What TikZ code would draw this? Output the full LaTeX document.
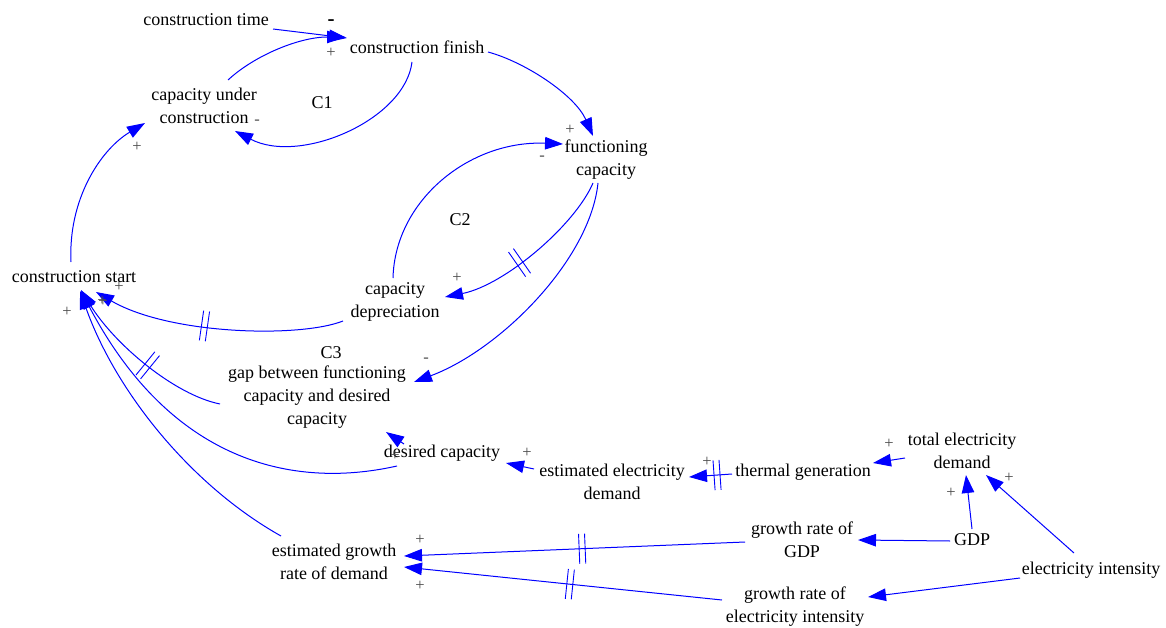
\documentclass[tikz,border=0pt]{standalone}
\usepackage{fontspec}
\setmainfont{Liberation Serif}
\usetikzlibrary{arrows.meta,calc,decorations.markings}
\definecolor{linkblue}{RGB}{0,0,255}

\begin{document}
\begin{tikzpicture}[x=1pt,y=-1pt,
  var/.style={inner sep=0pt,align=center,font=\fontsize{18}{23}\selectfont},
  looplbl/.style={inner sep=0pt,font=\fontsize{18}{23}\selectfont},
  pol/.style={inner sep=0pt,text=black!70,font=\fontsize{16.5}{16.5}\selectfont},
  link/.style={draw=linkblue,line width=1pt,-{Triangle[length=18pt,width=12.5pt]}},
  delay/.style={postaction={decorate,decoration={markings,
      mark=at position #1 with {\draw[linkblue,line width=0.9pt,-]
        (-3pt,-15pt)--(-3pt,15pt) (3pt,-15pt)--(3pt,15pt);}}}},
]
\useasboundingbox[fill=white] (0,0) rectangle (1166,628);

% variables
\node[var] (ct)   at (206,20)  {construction time};
\node[var] (cf)   at (417,47)  {construction finish};
\node[var] (cuc)  at (204,106) {capacity under\\construction};
\node[var] (fc)   at (606,160) {functioning\\capacity};
\node[var] (cs)   at (74,277)  {construction start};
\node[var] (cd)   at (395,302) {capacity\\depreciation};
\node[var] (gap)  at (317,397) {gap between functioning\\capacity and desired\\capacity};
\node[var] (dc)   at (442,453) {desired capacity};
\node[var] (eed)  at (612,482) {estimated electricity\\demand};
\node[var] (tg)   at (803,472) {thermal generation};
\node[var] (ted)  at (962,451) {total electricity\\demand};
\node[var] (gdp)  at (972,540) {GDP};
\node[var] (ggdp) at (802,540) {growth rate of\\GDP};
\node[var] (ei)   at (1091,570) {electricity intensity};
\node[var] (gei)  at (795,607) {growth rate of\\electricity intensity};
\node[var] (egd)  at (334,562) {estimated growth\\rate of demand};

% loop names
\node[looplbl] (c1) at (322,103) {C1};
\node[looplbl] (c2) at (460,220) {C2};
\node[looplbl] (c3) at (331,353) {C3};

% causal links
\draw[link] ($(ct)+(67,9)$) -- ($(cf)+(-70,-9)$);
\draw[link] ($(cuc)+(24,-26)$) .. controls (255,55) and (300,37) .. ($(cf)+(-72,-10)$);
\draw[link] ($(cf)+(-5,15)$) .. controls (405,120) and (300,165) .. ($(cuc)+(31,25)$);
\draw[link] ($(cf)+(71,5)$) .. controls (525,62) and (575,95) .. ($(fc)+(-13,-24)$);
\draw[link] ($(cd)+(-2,-24)$) .. controls (395,200) and (470,140) .. ($(fc)+(-43,-16)$);
\draw[link,delay=0.57] ($(fc)+(-13,23)$) .. controls (575,225) and (505,285) .. ($(cd)+(50,-5)$);
\draw[link] ($(fc)+(-8,23)$) .. controls (590,260) and (500,350) .. ($(gap)+(97,-15)$);
\draw[link,delay=0.55] ($(cd)+(-52,19)$) .. controls (300,338) and (170,335) .. ($(cs)+(22,15)$);
\draw[link,delay=0.45] ($(gap)+(-97,7)$) .. controls (175,395) and (115,345) .. ($(cs)+(7,13)$);
\draw[link] ($(dc)+(-45,13)$) .. controls (290,490) and (170,460) .. ($(cs)+(7,14)$);
\draw[link] ($(egd)+(-53,-26)$) .. controls (190,485) and (115,390) .. ($(cs)+(6,14)$);
\draw[link] ($(cs)+(-3,-15)$) .. controls (68,200) and (100,150) .. ($(cuc)+(-59,17)$);
\draw[link] ($(dc)+(-38,-9)$) -- ($(gap)+(69,35)$);
\draw[link] ($(eed)+(-78,-13)$) -- ($(dc)+(64,10)$);
\draw[link,delay=15pt] ($(tg)+(-71,2)$) -- ($(eed)+(77,-5)$);
\draw[link] ($(ted)+(-57,7)$) -- ($(tg)+(70,-9)$);
\draw[link] ($(gdp)+(0,-11)$) -- ($(ted)+(4,24)$);
\draw[link] ($(ei)+(-17,-17)$) -- ($(ted)+(24,24)$);
\draw[link] ($(gdp)+(-22,1)$) -- ($(ggdp)+(56,0)$);
\draw[link] ($(ei)+(-71,8)$) -- ($(gei)+(73,-10)$);
\draw[link,delay=163pt] ($(ggdp)+(-57,2)$) -- ($(egd)+(70,-6)$);
\draw[link,delay=153pt] ($(gei)+(-73,-7)$) -- ($(egd)+(70,5)$);

% link polarities
\node[inner sep=0pt,font=\fontsize{21}{21}\selectfont\bfseries] (m1) at (331,23) {-};
\node[pol] (p1)  at (331,53)  {+};
\node[pol] (m2)  at (257,122) {-};
\node[pol] (p2)  at (570,130) {+};
\node[pol] (m3)  at (542,158) {-};
\node[pol] (p3)  at (457,278) {+};
\node[pol] (m4)  at (426,360) {-};
\node[pol] (p4)  at (119,287) {+};
\node[pol] (p5)  at (102,301) {+};
\node[pol] (p5b) at (103,302) {+};
\node[pol] (p6)  at (67,312)  {+};
\node[pol] (p7)  at (137,147) {+};
\node[pol] (p8)  at (395,456) {+};
\node[pol] (p9)  at (527,453) {+};
\node[pol] (p10) at (707,462) {+};
\node[pol] (p11) at (889,444) {+};
\node[pol] (p12) at (951,493) {+};
\node[pol] (p13) at (1009,478) {+};
\node[pol] (p14) at (420,540) {+};
\node[pol] (p15) at (420,586) {+};
\end{tikzpicture}
\end{document}
